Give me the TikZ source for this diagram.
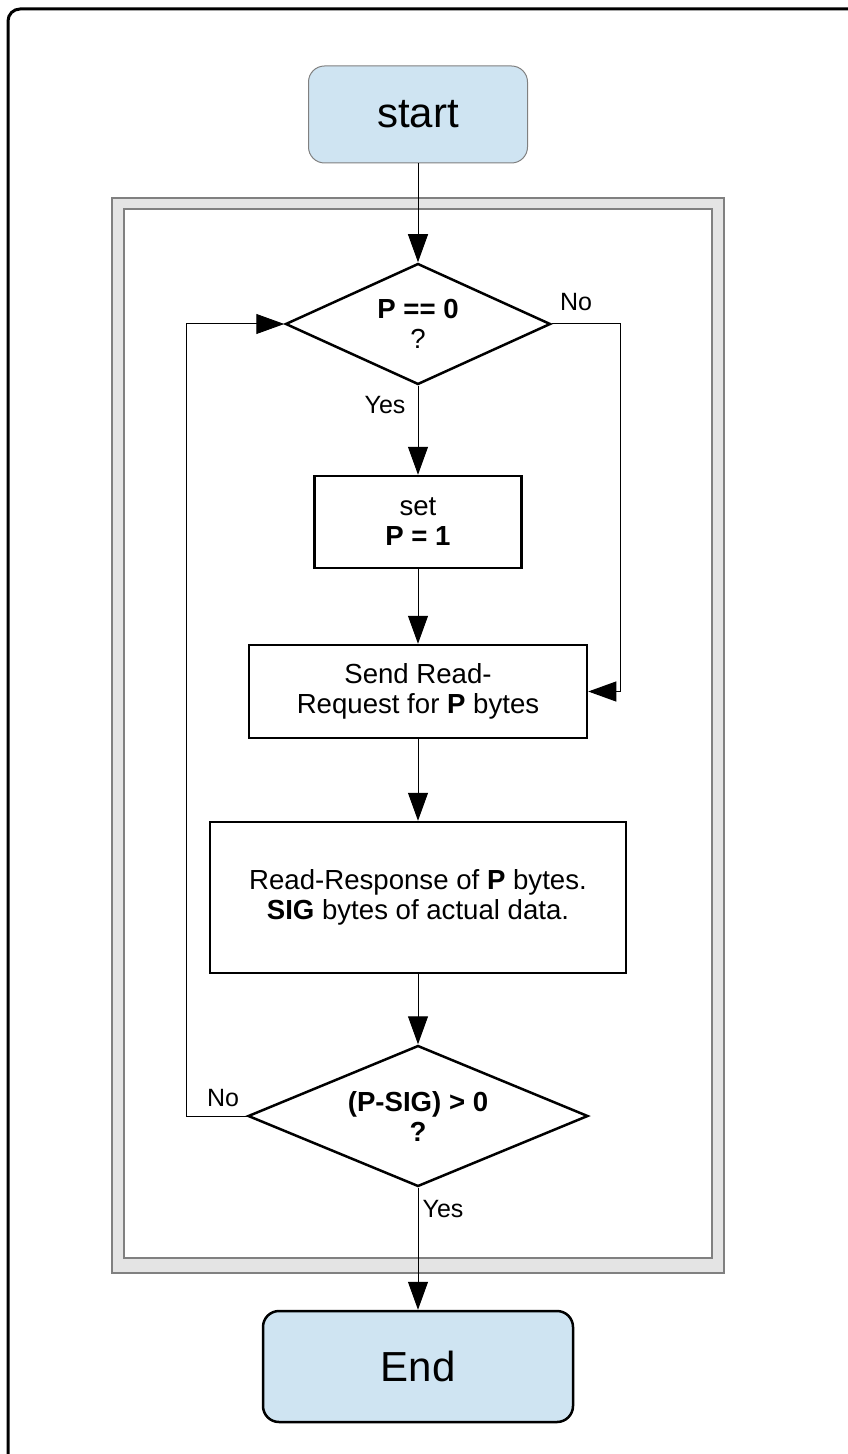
\documentclass[tikz,border=0pt]{standalone}
\usepackage{fontspec}
\setmainfont{Liberation Sans}
\usetikzlibrary{shapes.geometric,arrows.meta}
\definecolor{termblue}{RGB}{207,228,242}
\definecolor{bandgray}{RGB}{228,228,228}
\tikzset{
    terminal/.style={draw=black, line width=1.25pt, fill=termblue, rounded corners=8pt, inner sep=0pt, font=\fontsize{21}{25}\selectfont},
    stepbox/.style={draw=black, line width=1.25pt, fill=white, inner sep=0pt, align=center, font=\fontsize{13.8}{15}\selectfont},
    decision/.style={diamond, aspect=2.3, draw=black, line width=1.25pt, fill=white, inner sep=0pt, align=center, font=\fontsize{13.8}{15}\selectfont},
    flow/.style={line width=0.5pt, -{Triangle[length=14pt,width=10pt]}},
    answer/.style={inner sep=0pt, font=\fontsize{12.5}{14}\selectfont}
}

\begin{document}
    \begin{tikzpicture}[x=0.5pt, y=-0.5pt]
        \useasboundingbox (0,0) rectangle (847,1454);
        \draw[line width=1.5pt, rounded corners=6pt] (8,1470) -- (8,9) -- (870,9);
        \filldraw[draw=gray, fill=bandgray, line width=0.75pt] (112,198) rectangle (724,1273);
        \filldraw[draw=gray, fill=white, line width=0.75pt] (124,209) rectangle (712,1258);

        \node[terminal, draw=gray, line width=0.5pt, minimum width=109.5pt, minimum height=48.5pt] (start) at (418,114.5) {start};
        \node[decision, minimum width=132.5pt, minimum height=60.5pt] (cond1) at (418,324) {\textbf{P == 0}\\?};
        \node[stepbox, minimum width=103.5pt, minimum height=46pt] (setp) at (418,522) {set\\\textbf{P = 1}};
        \node[stepbox, minimum width=169pt, minimum height=46.5pt] (send) at (418,691.5) {Send Read-\\Request for \textbf{P} bytes};
        \node[stepbox, minimum width=208pt, minimum height=75.5pt] (resp) at (418,897.5) {Read-Response of \textbf{P} bytes.\\\textbf{SIG} bytes of actual data.};
        \node[decision, minimum width=170pt, minimum height=70.5pt] (cond2) at (418,1116) {\textbf{(P-SIG) > 0}\\\textbf{?}};
        \node[terminal, minimum width=155pt, minimum height=55.5pt] (stop) at (418,1366.5) {End};

        \node[answer] (yes1) at (385,405) {Yes};
        \node[answer] (no1) at (576,302) {No};
        \node[answer] (no2) at (223,1098) {No};
        \node[answer] (yes2) at (443,1209) {Yes};

        \coordinate (noright) at (620,691.5);
        \coordinate (noleft) at (186,1116);

        \draw[flow] (start) -- (cond1);
        \draw[flow] (cond1) -- (setp);
        \draw[flow] (setp) -- (send);
        \draw[flow] (send) -- (resp);
        \draw[flow] (resp) -- (cond2);
        \draw[flow] (cond2) -- (stop);
        \draw[flow] (cond1.east) -| (noright) -- (send.east);
        \draw[flow] (cond2.west) -- (noleft) |- (cond1.west);
    \end{tikzpicture}
\end{document}
